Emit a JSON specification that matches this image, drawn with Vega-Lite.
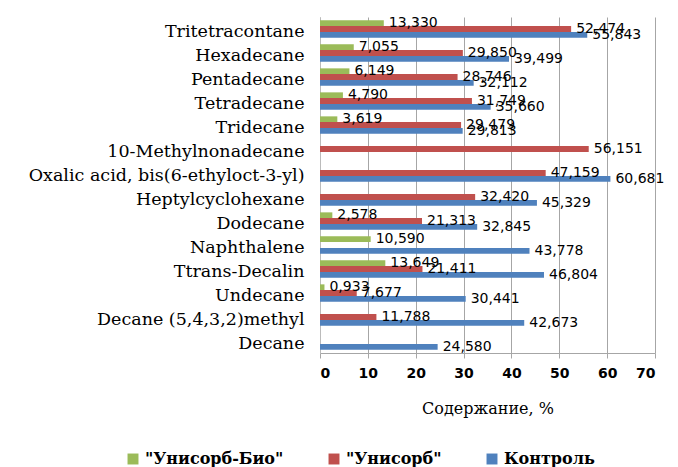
{
  "$schema": "https://vega.github.io/schema/vega-lite/v6.json",
  "autosize": {"type": "none"},
  "width": 335,
  "height": 336,
  "padding": {"left": 320, "top": 17, "right": 23, "bottom": 114},
  "background": "white",
  "config": {
    "locale": {"number": {"decimal": ",", "thousands": " ", "grouping": [3], "currency": ["", ""]}},
    "view": {"stroke": null}
  },
  "data": {
    "values": [
      {"compound": "Tritetracontane", "series": "\"Унисорб-Био\"", "value": 13.330},
      {"compound": "Tritetracontane", "series": "\"Унисорб\"", "value": 52.474},
      {"compound": "Tritetracontane", "series": "Контроль", "value": 55.843},
      {"compound": "Hexadecane", "series": "\"Унисорб-Био\"", "value": 7.055},
      {"compound": "Hexadecane", "series": "\"Унисорб\"", "value": 29.850},
      {"compound": "Hexadecane", "series": "Контроль", "value": 39.499},
      {"compound": "Pentadecane", "series": "\"Унисорб-Био\"", "value": 6.149},
      {"compound": "Pentadecane", "series": "\"Унисорб\"", "value": 28.746},
      {"compound": "Pentadecane", "series": "Контроль", "value": 32.112},
      {"compound": "Tetradecane", "series": "\"Унисорб-Био\"", "value": 4.790},
      {"compound": "Tetradecane", "series": "\"Унисорб\"", "value": 31.749},
      {"compound": "Tetradecane", "series": "Контроль", "value": 35.660},
      {"compound": "Tridecane", "series": "\"Унисорб-Био\"", "value": 3.619},
      {"compound": "Tridecane", "series": "\"Унисорб\"", "value": 29.479},
      {"compound": "Tridecane", "series": "Контроль", "value": 29.813},
      {"compound": "10-Methylnonadecane", "series": "\"Унисорб\"", "value": 56.151},
      {"compound": "Oxalic acid, bis(6-ethyloct-3-yl)", "series": "\"Унисорб\"", "value": 47.159},
      {"compound": "Oxalic acid, bis(6-ethyloct-3-yl)", "series": "Контроль", "value": 60.681},
      {"compound": "Heptylcyclohexane", "series": "\"Унисорб\"", "value": 32.420},
      {"compound": "Heptylcyclohexane", "series": "Контроль", "value": 45.329},
      {"compound": "Dodecane", "series": "\"Унисорб-Био\"", "value": 2.578},
      {"compound": "Dodecane", "series": "\"Унисорб\"", "value": 21.313},
      {"compound": "Dodecane", "series": "Контроль", "value": 32.845},
      {"compound": "Naphthalene", "series": "\"Унисорб-Био\"", "value": 10.590},
      {"compound": "Naphthalene", "series": "Контроль", "value": 43.778},
      {"compound": "Ttrans-Decalin", "series": "\"Унисорб-Био\"", "value": 13.649},
      {"compound": "Ttrans-Decalin", "series": "\"Унисорб\"", "value": 21.411},
      {"compound": "Ttrans-Decalin", "series": "Контроль", "value": 46.804},
      {"compound": "Undecane", "series": "\"Унисорб-Био\"", "value": 0.933},
      {"compound": "Undecane", "series": "\"Унисорб\"", "value": 7.677},
      {"compound": "Undecane", "series": "Контроль", "value": 30.441},
      {"compound": "Decane (5,4,3,2)methyl", "series": "\"Унисорб\"", "value": 11.788},
      {"compound": "Decane (5,4,3,2)methyl", "series": "Контроль", "value": 42.673},
      {"compound": "Decane", "series": "Контроль", "value": 24.580}
    ]
  },
  "encoding": {
    "y": {
      "field": "compound", "type": "nominal", "sort": null,
      "scale": {"paddingInner": 0.28, "paddingOuter": 0.14},
      "axis": {"title": null, "ticks": false, "domain": true, "domainColor": "#bbbbbb", "labelFont": "DejaVu Serif", "labelFontSize": 17.5, "labelColor": "#000000", "labelPadding": 16, "labelLimit": 400, "labelOffset": 3}
    },
    "yOffset": {
      "field": "series", "type": "nominal",
      "sort": ["\"Унисорб-Био\"", "\"Унисорб\"", "Контроль"]
    },
    "x": {
      "field": "value", "type": "quantitative",
      "scale": {"domain": [0, 70], "nice": false},
      "axis": {"values": [0, 10, 20, 30, 40, 50, 60, 70], "title": "Содержание, %", "titleFont": "DejaVu Serif", "titleFontSize": 16, "titleFontWeight": "normal", "titleColor": "#000000", "titlePadding": 20, "labelFont": "DejaVu Sans", "labelFontSize": 14, "labelFontWeight": "bold", "labelColor": "#000000", "labelPadding": 8, "grid": true, "gridColor": "#a6a6a6", "domainColor": "#a6a6a6", "tickColor": "#a6a6a6", "tickSize": 5}
    }
  },
  "layer": [
    {
      "mark": {"type": "bar", "stroke": null},
      "encoding": {
        "color": {
          "field": "series", "type": "nominal",
          "sort": ["\"Унисорб-Био\"", "\"Унисорб\"", "Контроль"],
          "scale": {"domain": ["\"Унисорб-Био\"", "\"Унисорб\"", "Контроль"], "range": ["#9bbb59", "#c0504d", "#4f81bd"]},
          "legend": {"orient": "none", "legendX": -195, "legendY": 434, "title": null, "direction": "horizontal", "symbolType": "square", "symbolSize": 120, "symbolStrokeWidth": 0, "labelFont": "DejaVu Serif", "labelFontSize": 16, "labelFontWeight": "bold", "labelColor": "#000000", "columnPadding": 42, "labelLimit": 300}
        }
      }
    },
    {
      "mark": {"type": "text", "align": "left", "baseline": "middle", "dx": 5, "font": "DejaVu Sans", "fontSize": 14, "color": "#000000"},
      "encoding": {
        "text": {"field": "value", "type": "quantitative", "format": ".3f"}
      }
    }
  ]
}
